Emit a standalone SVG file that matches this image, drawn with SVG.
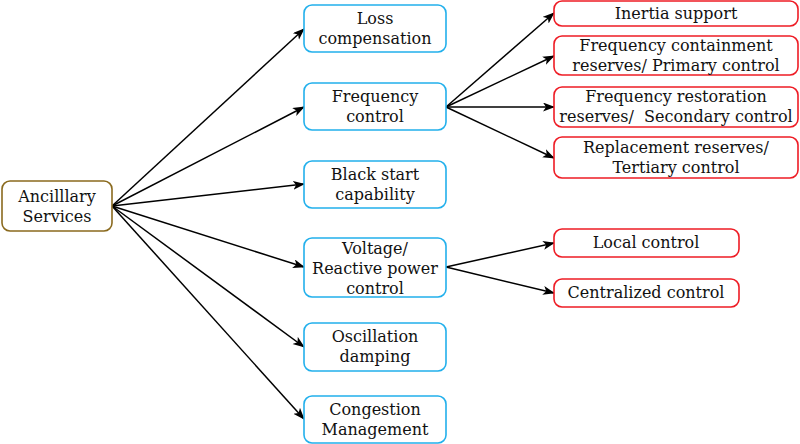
<svg xmlns="http://www.w3.org/2000/svg" width="800" height="444" viewBox="0 0 800 444">
<style>
text{font-family:"DejaVu Serif","Liberation Serif",serif;font-size:16px;fill:#111;text-anchor:middle}
.pre{white-space:pre}
.root{fill:#fff;stroke:#8A6A1E;stroke-width:1.6}
.blue{fill:#fff;stroke:#22B0EC;stroke-width:1.6}
.red{fill:#fff;stroke:#EE1C25;stroke-width:1.6}
.c{stroke:#000;stroke-width:1.5;fill:none;marker-end:url(#ah)}
</style>
<defs>
<marker id="ah" markerWidth="12" markerHeight="10" refX="11" refY="4.5" orient="auto" markerUnits="userSpaceOnUse">
<path d="M0,0 L12,4.5 L0,9 L3,4.5 z" fill="#000"/>
</marker>
</defs>
<g id="connectors">
<line class="c" x1="112" y1="206" x2="304" y2="29"/>
<line class="c" x1="112" y1="206" x2="304" y2="107"/>
<line class="c" x1="112" y1="206" x2="304" y2="184"/>
<line class="c" x1="112" y1="206" x2="304" y2="267"/>
<line class="c" x1="112" y1="206" x2="304" y2="347"/>
<line class="c" x1="112" y1="206" x2="304" y2="419"/>
<line class="c" x1="446" y1="107" x2="554" y2="13"/>
<line class="c" x1="446" y1="107" x2="554" y2="56"/>
<line class="c" x1="446" y1="107" x2="554" y2="107"/>
<line class="c" x1="446" y1="107" x2="554" y2="158"/>
<line class="c" x1="446" y1="267" x2="554" y2="243"/>
<line class="c" x1="446" y1="267" x2="554" y2="293"/>
</g>
<g id="root">
<rect class="root" x="2" y="181" width="110" height="50" rx="8"/>
<text x="57" y="202">Ancilllary</text>
<text x="57" y="222">Services</text>
</g>
<g id="loss">
<rect class="blue" x="304" y="5" width="142" height="47" rx="8"/>
<text x="375" y="24">Loss</text>
<text x="375" y="44">compensation</text>
</g>
<g id="freq">
<rect class="blue" x="304" y="83" width="142" height="47" rx="8"/>
<text x="375" y="102">Frequency</text>
<text x="375" y="122">control</text>
</g>
<g id="black">
<rect class="blue" x="304" y="161" width="142" height="47" rx="8"/>
<text x="375" y="180">Black start</text>
<text x="375" y="200">capability</text>
</g>
<g id="voltage">
<rect class="blue" x="304" y="238" width="142" height="59" rx="8"/>
<text x="375" y="253.5">Voltage/</text>
<text x="375" y="273.5">Reactive power</text>
<text x="375" y="293.5">control</text>
</g>
<g id="osc">
<rect class="blue" x="304" y="323" width="142" height="48" rx="8"/>
<text x="375" y="342">Oscillation</text>
<text x="375" y="362">damping</text>
</g>
<g id="cong">
<rect class="blue" x="304" y="396" width="142" height="47" rx="8"/>
<text x="375" y="415">Congestion</text>
<text x="375" y="435">Management</text>
</g>
<g id="inertia">
<rect class="red" x="554" y="1" width="244" height="25" rx="8"/>
<text x="676" y="19">Inertia support</text>
</g>
<g id="fcr">
<rect class="red" x="554" y="36" width="244" height="39" rx="8"/>
<text x="676" y="51">Frequency containment</text>
<text x="676" y="71">reserves/ Primary control</text>
</g>
<g id="frr">
<rect class="red" x="554" y="87" width="244" height="40" rx="8"/>
<text x="676" y="102">Frequency restoration</text>
<text class="pre" x="676" y="122">reserves/  Secondary control</text>
</g>
<g id="rr">
<rect class="red" x="554" y="137" width="244" height="41" rx="8"/>
<text x="676" y="153">Replacement reserves/</text>
<text x="676" y="173">Tertiary control</text>
</g>
<g id="local">
<rect class="red" x="554" y="229" width="185" height="28" rx="8"/>
<text x="646" y="248">Local control</text>
</g>
<g id="central">
<rect class="red" x="554" y="279" width="185" height="28" rx="8"/>
<text x="646" y="298">Centralized control</text>
</g>
</svg>
